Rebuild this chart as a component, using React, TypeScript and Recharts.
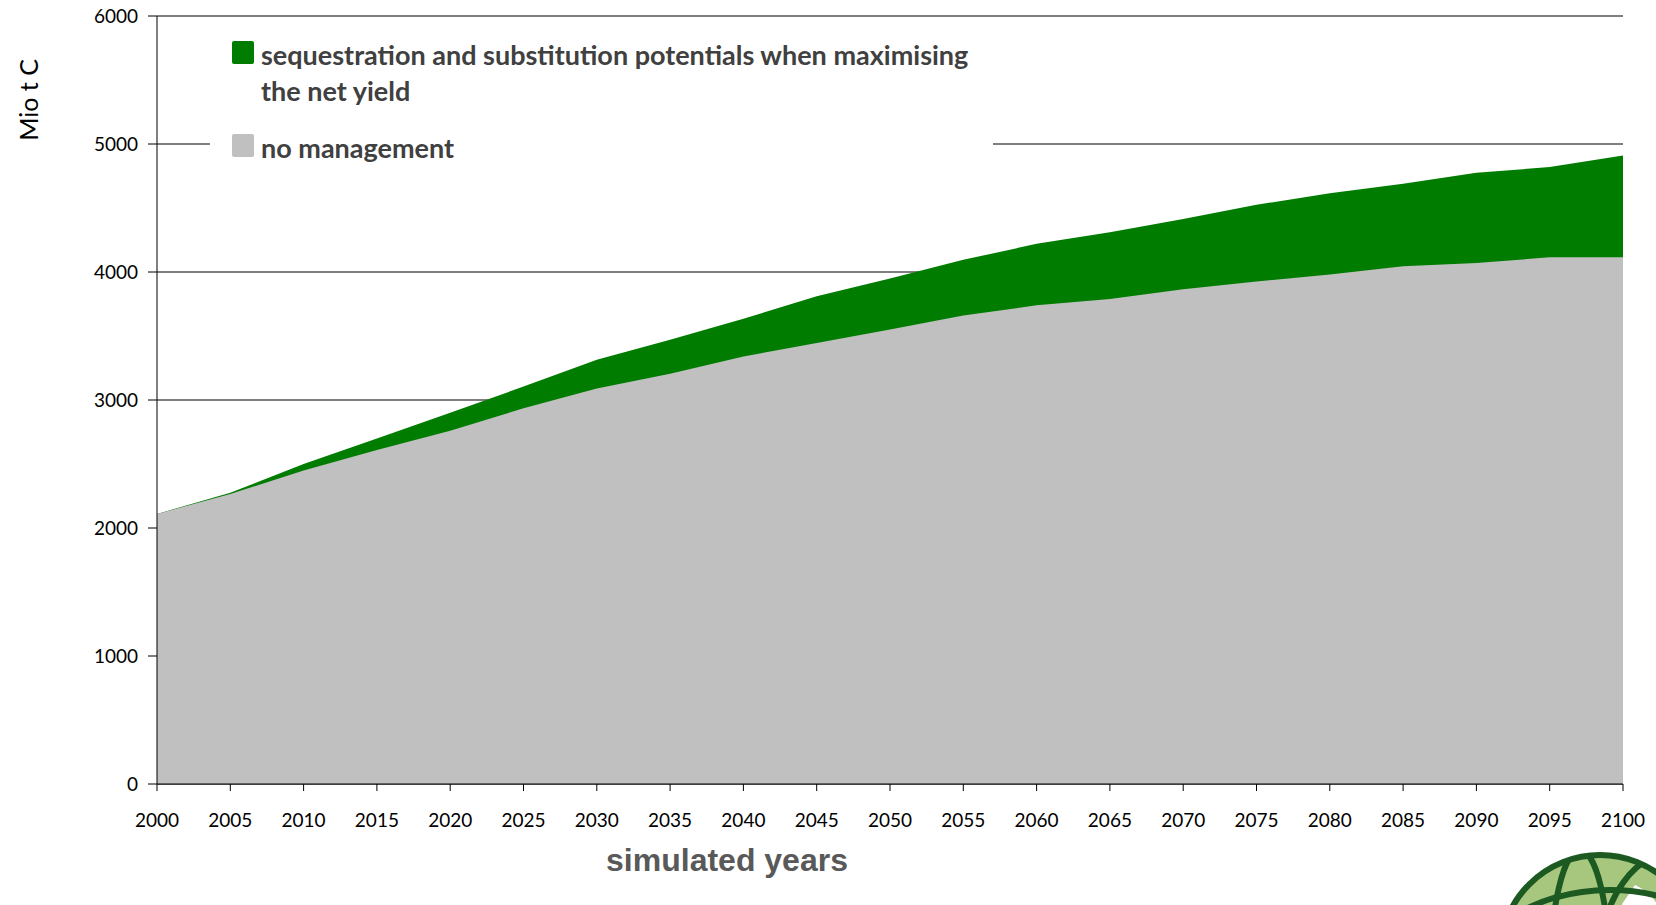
import { AreaChart, Area, XAxis, YAxis, CartesianGrid, Legend } from 'recharts';

const years = [2000, 2005, 2010, 2015, 2020, 2025, 2030, 2035, 2040, 2045, 2050, 2055, 2060, 2065, 2070, 2075, 2080, 2085, 2090, 2095, 2100];
// no management (Mio t C)
const noManagement = [2110, 2265, 2450, 2610, 2760, 2935, 3090, 3205, 3340, 3445, 3550, 3660, 3740, 3790, 3865, 3925, 3980, 4045, 4070, 4115, 4115];
// maximising the net yield, incl. sequestration and substitution
const maxNetYield = [2110, 2275, 2500, 2700, 2900, 3105, 3315, 3470, 3635, 3810, 3950, 4095, 4220, 4310, 4415, 4525, 4615, 4690, 4775, 4820, 4910];
const yTicks = [0, 1000, 2000, 3000, 4000, 5000, 6000];

const greenName = 'sequestration and substitution potentials when maximising the net yield';
const grayName = 'no management';
const legendOrder = [greenName, grayName];

const data = years.map((year, i) => ({
  year,
  noManagement: noManagement[i],
  maxNetYield: maxNetYield[i],
}));

const tickStyle = { fontSize: 19, fill: '#000', fontFamily: 'Lato, sans-serif' };

function LegendBox({ payload }: any) {
  const items = [...(payload || [])].sort(
    (a: any, b: any) => legendOrder.indexOf(a.value) - legendOrder.indexOf(b.value)
  );
  return (
    <div style={{ background: '#fff', width: 783, height: 150, paddingTop: 13, boxSizing: 'border-box' }}>
      {items.map((it: any, i: number) => (
        <div key={it.value} style={{ display: 'flex', alignItems: 'flex-start', marginBottom: i === 0 ? 21 : 0 }}>
          <div
            style={{
              width: 22,
              height: 23,
              marginLeft: 22,
              marginTop: 4,
              borderRadius: 2,
              background: it.color,
              flex: 'none',
            }}
          />
          <div
            style={{
              marginLeft: 7,
              width: 730,
              fontFamily: 'Lato, sans-serif',
              fontWeight: 700,
              fontSize: 27,
              lineHeight: '36px',
              color: '#404040',
              textAlign: 'left',
            }}
          >
            {it.value}
          </div>
        </div>
      ))}
    </div>
  );
}

function Globe() {
  return (
    <svg width={1656} height={905} style={{ position: 'absolute', left: 0, top: 0, pointerEvents: 'none' }}>
      <defs>
        <clipPath id="globeClip">
          <circle cx={1600} cy={955} r={100} />
        </clipPath>
      </defs>
      <circle cx={1600} cy={955} r={100} fill="#a8c77e" />
      <g clipPath="url(#globeClip)" fill="none" stroke="#1c5a22" strokeWidth={6}>
        <path d="M1635 885 q18 8 25 25 l-8 18 q-22 -6 -30 -24 z" fill="#fff" stroke="none" />
        <ellipse cx={1610} cy={1000} rx={150} ry={110} />
        <ellipse cx={1610} cy={1030} rx={160} ry={110} />
        <ellipse cx={1680} cy={960} rx={80} ry={110} />
        <ellipse cx={1580} cy={980} rx={30} ry={130} />
      </g>
      <circle cx={1600} cy={955} r={100} fill="none" stroke="#1c5a22" strokeWidth={6} />
    </svg>
  );
}

export default function App() {
  return (
    <div style={{ position: 'relative', width: 1656, height: 905, background: '#fff' }}>
      <style>{'body{margin:0}'}</style>
      <AreaChart width={1656} height={905} data={data} margin={{ top: 16, right: 33, left: 0, bottom: 0 }}>
        <CartesianGrid vertical={false} stroke="#000" strokeWidth={1.2} />
        <XAxis
          dataKey="year"
          type="number"
          domain={[2000, 2100]}
          ticks={years}
          height={121}
          tickSize={7}
          tickMargin={23}
          tick={tickStyle}
          stroke="#000"
          interval={0}
          label={{
            content: () => (
              <text
                x={727}
                y={871}
                textAnchor="middle"
                fontFamily="'Liberation Sans', Arial, sans-serif"
                fontWeight={700}
                fontSize={32}
                fill="#595959"
              >
                simulated years
              </text>
            ),
          }}
        />
        <YAxis
          domain={[0, 6000]}
          ticks={yTicks}
          width={157}
          tickSize={9}
          tickMargin={10}
          tick={tickStyle}
          stroke="#000"
          interval={0}
          label={{
            content: () => (
              <text
                x={28}
                y={100}
                transform="rotate(-90 28 100)"
                textAnchor="middle"
                dominantBaseline="central"
                fontFamily="Lato, sans-serif"
                fontSize={25}
                fill="#000"
              >
                Mio t C
              </text>
            ),
          }}
        />
        <Legend
          layout="horizontal"
          verticalAlign="middle"
          align="center"
          wrapperStyle={{ left: 210, top: 24, width: 783, height: 150 }}
          content={<LegendBox />}
        />
        <Area
          name={greenName}
          dataKey="maxNetYield"
          type="linear"
          stroke="none"
          fill="#007c00"
          fillOpacity={1}
          isAnimationActive={false}
        />
        <Area
          name={grayName}
          dataKey="noManagement"
          type="linear"
          stroke="none"
          fill="#c0c0c0"
          fillOpacity={1}
          isAnimationActive={false}
        />
      </AreaChart>
      <Globe />
    </div>
  );
}
